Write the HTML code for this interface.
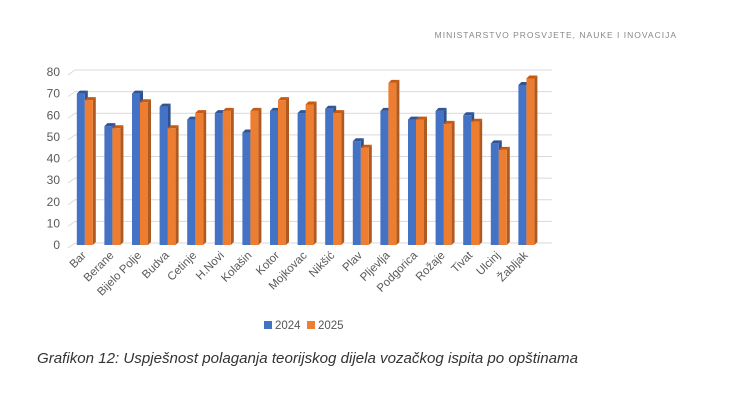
<!DOCTYPE html>
<html><head><meta charset="utf-8"><style>
body{margin:0;background:#fff;width:731px;height:402px;overflow:hidden;font-family:"Liberation Sans",sans-serif}
</style></head><body>
<svg width="731" height="402" id="svg">
<text x="677" y="38" text-anchor="end" font-size="8.5" letter-spacing="1" fill="#888">MINISTARSTVO PROSVJETE, NAUKE I INOVACIJA</text>
<g id="grid"></g><g id="bars"></g><g id="labels"></g>
<g>
<rect x="264" y="321" width="8" height="8" fill="#4472c4"/>
<text x="275" y="329" font-size="11.5" fill="#555">2024</text>
<rect x="307" y="321" width="8" height="8" fill="#ed7d31"/>
<text x="318" y="329" font-size="11.5" fill="#555">2025</text>
</g>
<text x="37" y="363" font-size="15" font-style="italic" fill="#333" textLength="541" lengthAdjust="spacingAndGlyphs">Grafikon 12: Uspješnost polaganja teorijskog dijela vozačkog ispita po opštinama</text>
</svg>
<script>
const categories=["Bar","Berane","Bijelo Polje","Budva","Cetinje","H.Novi","Kolašin","Kotor","Mojkovac","Nikšić","Plav","Pljevlja","Podgorica","Rožaje","Tivat","Ulcinj","Žabljak"];
const values2024=[70,55,70,64,58,61,52,62,61,63,48,62,58,62,60,47,74];
const values2025=[67,54,66,54,61,62,62,67,65,61,45,75,58,56,57,44,77];
const ticks=[0,10,20,30,40,50,60,70,80];
const NS="http://www.w3.org/2000/svg";
const x0=72,step=27.6,yBase=245,yTop=72,vMax=80;
const y=v=>yBase-(v/vMax)*(yBase-yTop);
const cx=i=>x0+step*(i+0.5);
function mk(t,a,p){const e=document.createElementNS(NS,t);for(const k in a)e.setAttribute(k,a[k]);p.appendChild(e);return e;}
const grid=document.getElementById('grid'),bars=document.getElementById('bars'),labels=document.getElementById('labels');
ticks.forEach(t=>{
 const l=mk('polyline',{points:`${x0-4},${y(t)+3} ${x0+3},${y(t)-2} ${x0+480},${y(t)-2}`,fill:'none',stroke:'#d9d9d9','stroke-width':1},grid);
 
 
 const tx=mk('text',{x:x0-12,y:y(t)+4,'text-anchor':'end','font-size':12,fill:'#595959'},grid);
 tx.textContent=t;
 
 
});
function bar(xl,v,front,side,top,name){
 const g=mk('g',{},bars);
 
 
 const w=8,d=3,yt=y(v);
 mk('polygon',{points:`${xl+w},${yt} ${xl+w+d},${yt-3} ${xl+w+d},${yBase-3} ${xl+w},${yBase}`,fill:side},g);
 mk('polygon',{points:`${xl},${yt} ${xl+d},${yt-3} ${xl+w+d},${yt-3} ${xl+w},${yt}`,fill:top},g);
 mk('rect',{x:xl,y:yt,width:w,height:yBase-yt,fill:front},g);
}
categories.forEach((c,i)=>{
 const c0=cx(i);
 bar(c0-9,values2024[i],'#4472c4','#2f528f','#2f5597','bar-2024-'+c);
 bar(c0-1,values2025[i],'#ed7d31','#ae5a21','#c55a11','bar-2025-'+c);
 const t=mk('text',{x:c0+1,y:256,'text-anchor':'end','font-size':11.5,fill:'#595959',transform:`rotate(-45 ${c0+1} 256)`},labels);
 t.textContent=c;
 
 
});
</script>
</body></html>
